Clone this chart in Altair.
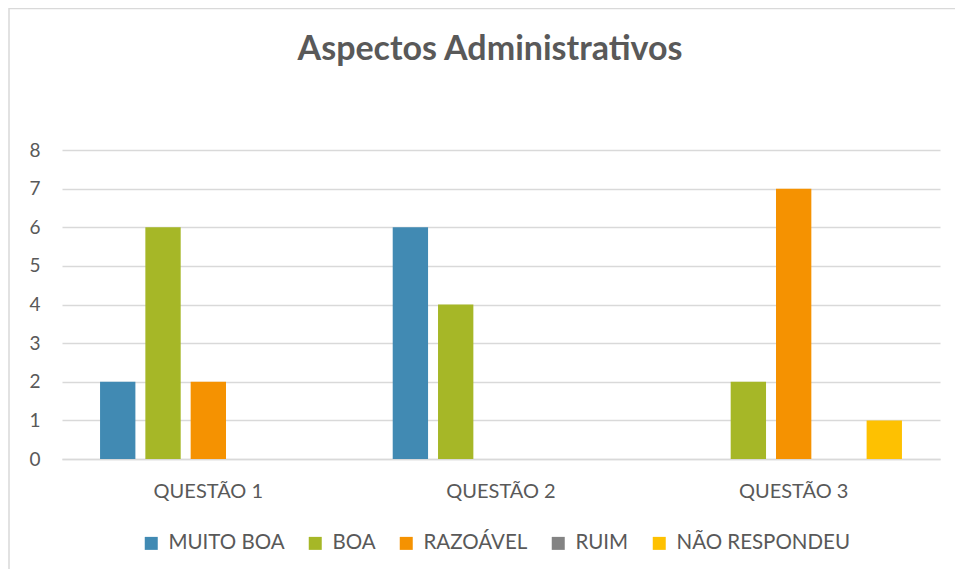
import altair as alt
import pandas as pd

categories = ["QUESTÃO 1", "QUESTÃO 2", "QUESTÃO 3"]
series = ["MUITO BOA", "BOA", "RAZOÁVEL", "RUIM", "NÃO RESPONDEU"]
muito_boa = [2, 6, 0]
boa = [6, 4, 2]
razoavel = [2, 0, 7]
ruim = [0, 0, 0]
nao_respondeu = [0, 0, 1]
colors = ["#418AB3", "#A6B727", "#F59201", "#838383", "#FEC101"]
y_ticks = [0, 1, 2, 3, 4, 5, 6, 7, 8]
title_text = "Aspectos Administrativos"

vals = [muito_boa, boa, razoavel, ruim, nao_respondeu]
rows = []
for s, v in zip(series, vals):
    for c, n in zip(categories, v):
        rows.append({"cat": c, "serie": s, "val": n})
df = pd.DataFrame(rows)

FONT = "Lato"
TXT = "#595959"
W, H = 878, 309

bars = alt.Chart(df).mark_bar().encode(
    x=alt.X("cat:N", sort=categories, title=None,
            scale=alt.Scale(paddingInner=0.26, paddingOuter=0.13),
            axis=alt.Axis(labelAngle=0, labelFontSize=20, labelColor=TXT, labelFont=FONT,
                          labelPadding=22, ticks=False, domainColor="#D9D9D9", domainWidth=1.5)),
    xOffset=alt.XOffset("serie:N", sort=series,
                        scale=alt.Scale(paddingInner=0.22, paddingOuter=0)),
    y=alt.Y("val:Q", title=None,
            scale=alt.Scale(domain=[0, 8], nice=False),
            axis=alt.Axis(values=y_ticks, labelFontSize=19, labelColor=TXT, labelFont=FONT,
                          labelPadding=22, ticks=False, domain=False, gridColor="#D9D9D9",
                          gridWidth=1.5)),
    color=alt.Color("serie:N", sort=series, title=None,
                    scale=alt.Scale(domain=series, range=colors),
                    legend=alt.Legend(orient="none", legendX=79, legendY=383, direction="horizontal",
                                      symbolType="square", symbolSize=169, symbolStrokeWidth=0,
                                      labelFontSize=20.5, labelFont=FONT, labelColor=TXT,
                                      labelOffset=7, columnPadding=20, labelLimit=0)),
)

title = alt.Chart(alt.Data(values=[{"t": title_text}])).mark_text(
    font=FONT, fontSize=34, fontWeight="bold", color=TXT, align="center", baseline="middle"
).encode(text="t:N", x=alt.value(W / 2 - 11), y=alt.value(-100))

border = alt.Chart(alt.Data(values=[{}])).mark_rule(color="#D9D9D9", strokeWidth=1.5).encode(
    x=alt.value(-53), y=alt.value(-142), y2=alt.value(H + 140)
)
border_top = alt.Chart(alt.Data(values=[{}])).mark_rule(color="#D9D9D9", strokeWidth=1.5).encode(
    x=alt.value(-53), x2=alt.value(W + 30), y=alt.value(-141.5)
)

chart = alt.layer(bars, title, border, border_top).properties(
    width=W, height=H,
    autosize=alt.AutoSizeParams(type="none"),
    padding={"left": 54, "top": 142, "right": 15, "bottom": 110},
).configure(background="white").configure_view(stroke=None)

chart.save("out.html", embed_options={"renderer": "svg", "actions": False})
